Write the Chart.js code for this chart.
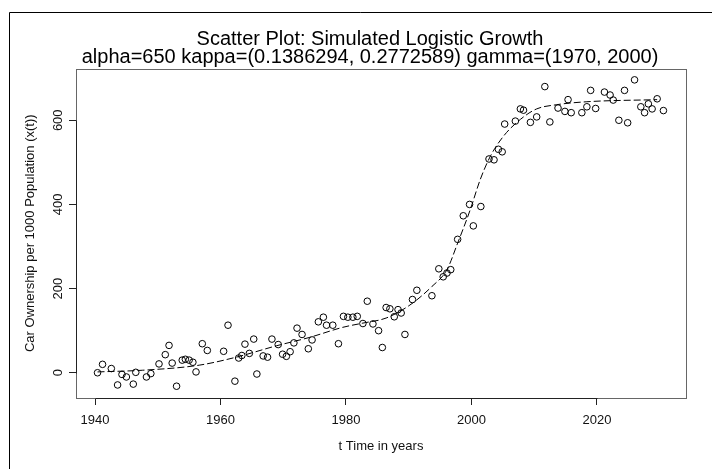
<!DOCTYPE html>
<html>
<head>
<meta charset="utf-8">
<script src="https://cdn.jsdelivr.net/npm/chart.js@4.4.1/dist/chart.umd.min.js"></script>
<style>
html,body{margin:0;padding:0;background:#fff;}
#wrap{width:712px;height:469px;}
</style>
</head>
<body>
<div id="wrap"><canvas id="c" width="712" height="469"></canvas></div>
<script>
// ---- data ----
const obsYears = [1940.4,1941.2,1942.6,1943.6,1944.3,1945.0,1946.1,1946.5,1948.2,1948.9,
  1950.2,1951.2,1951.8,1952.3,1953.0,1953.9,1954.4,1955.0,1955.6,1956.1,
  1957.1,1957.9,1960.5,1961.2,1962.3,1962.9,1963.4,1963.9,1964.6,1965.3,
  1965.8,1966.8,1967.5,1968.2,1969.2,1969.9,1970.5,1971.1,1971.7,1972.2,
  1973.0,1974.0,1974.6,1975.6,1976.4,1976.9,1977.9,1978.8,1979.6,1980.3,
  1981.1,1981.8,1982.7,1983.4,1984.3,1985.2,1985.8,1986.4,1987.0,1987.7,
  1988.3,1988.8,1989.4,1990.6,1991.3,1993.7,1994.8,1995.5,1996.1,1996.7,
  1997.8,1998.7,1999.7,2000.3,2001.5,2002.8,2003.6,2004.3,2004.9,2005.3,
  2007.0,2007.8,2008.3,2009.4,2010.4,2011.7,2012.5,2013.8,2014.9,2015.4,
  2015.9,2017.6,2018.4,2019.0,2019.8,2021.2,2022.1,2022.6,2023.5,2024.4,
  2024.9,2026.0,2027.0,2027.6,2028.2,2028.8,2029.6,2030.6];
const obsValues = [0,20,10,-29,-4,-10,-27,1,-10,-2,
  21,43,65,23,-32,30,32,30,25,2,
  69,53,51,113,-20,35,41,68,46,80,
  -3,40,37,80,67,44,39,50,71,106,
  91,57,78,121,132,113,113,69,134,132,
  132,134,117,170,116,100,60,155,152,133,
  150,142,91,174,196,183,247,228,237,245,
  317,373,400,349,395,508,506,531,525,591,
  598,627,624,595,608,680,596,629,621,649,
  618,618,632,671,628,667,660,648,600,671,
  594,696,632,618,639,627,651,623];
// dashed model curve
const curveYears  = [1940.4,1947.6,1956.6,1962.5,1968.9,1974.2,1979.5,1982.7,1986.4,1990.2,1993.7,1996.1,1997.8,1999.8,2001.4,2003.0,2005.1,2007.8,2010.4,2013.6,2018.4,2029.6];
const curveValues = [2,6,18,37,64,84,108,118,130,161,205,245,308,387,459,514,562,602,627,637,644,649];
// axis ticks
const xTicks = [1940,1960,1980,2000,2020];
const yTicks = [0,200,400,600];
const titleLines = ['Scatter Plot: Simulated Logistic Growth','alpha=650 kappa=(0.1386294, 0.2772589) gamma=(1970, 2000)'];
const xTitle = 't Time in years';
const yTitle = 'Car Ownership per 1000 Population (x(t))';

const FONT = '"Liberation Sans", Arial, Helvetica, sans-serif';

const obsPts = obsYears.map((t,i)=>({x:t,y:obsValues[i]}));
const curvePts = curveYears.map((t,i)=>({x:t,y:curveValues[i]}));

const decor = {
  id:'decor',
  beforeDraw(chart){
    const ctx = chart.ctx;
    ctx.save();
    ctx.fillStyle='#fff';
    ctx.fillRect(0,0,chart.width,chart.height);
    ctx.strokeStyle='#000';
    ctx.lineWidth=1;
    ctx.beginPath();
    ctx.moveTo(9.5,chart.height);
    ctx.lineTo(9.5,12.5);
    ctx.lineTo(chart.width,12.5);
    ctx.stroke();
    // main title (two lines)
    ctx.fillStyle='#000';
    ctx.font='20px '+FONT;
    ctx.textAlign='center';
    ctx.textBaseline='middle';
    ctx.fillText(titleLines[0],370,39);
    ctx.fillText(titleLines[1],370,57.5);
    ctx.restore();
  },
  afterDraw(chart){
    const {ctx, chartArea:a, scales:{x,y}} = chart;
    ctx.save();
    ctx.lineWidth=1;
    ctx.strokeStyle='#666';
    const L=Math.round(a.left)+0.5, T=Math.round(a.top)+0.5, R=Math.round(a.right)+0.5, B=Math.round(a.bottom)+0.5;
    ctx.strokeRect(L,T,R-L,B-T);
    ctx.strokeStyle='#222';
    ctx.beginPath();
    ctx.moveTo(Math.round(x.getPixelForValue(xTicks[0]))+0.5,B);
    ctx.lineTo(Math.round(x.getPixelForValue(xTicks[xTicks.length-1]))+0.5,B);
    ctx.moveTo(L,Math.round(y.getPixelForValue(yTicks[0]))+0.5);
    ctx.lineTo(L,Math.round(y.getPixelForValue(yTicks[yTicks.length-1]))+0.5);
    ctx.stroke();
    ctx.fillStyle='#111';
    ctx.font='13px '+FONT;
    ctx.textAlign='center';
    ctx.textBaseline='middle';
    yTicks.forEach(v=>{
      const py=y.getPixelForValue(v);
      ctx.save();
      ctx.translate(58.5,py);
      ctx.rotate(-Math.PI/2);
      ctx.fillText(String(v),0,0);
      ctx.restore();
    });
    ctx.restore();
  }
};

new Chart(document.getElementById('c'),{
  type:'scatter',
  data:{datasets:[
    {label:'observed',data:obsPts,pointStyle:'circle',pointRadius:3.3,pointBorderWidth:1,
     pointBorderColor:'#000',pointBackgroundColor:'rgba(0,0,0,0)',showLine:false,order:1},
    {label:'model',type:'line',data:curvePts,showLine:true,pointRadius:0,borderColor:'#000',
     borderWidth:1,borderDash:[7,3],cubicInterpolationMode:'monotone',fill:false,order:2}
  ]},
  options:{
    responsive:false,
    animation:false,
    events:[],
    layout:{padding:{left:0,right:26,top:68.5,bottom:0}},
    plugins:{
      legend:{display:false},
      tooltip:{enabled:false},
      title:{display:false}
    },
    scales:{
      x:{type:'linear',min:1936.97,max:2034.2,
        afterBuildTicks(s){s.ticks=xTicks.map(v=>({value:v}));},
        afterFit(s){s.height=71;},
        border:{display:false},
        grid:{drawOnChartArea:false,drawTicks:true,tickLength:7,color:'#222',lineWidth:1},
        ticks:{color:'#111',font:{family:FONT,size:13},padding:8,maxRotation:0,autoSkip:false,
          callback:v=>String(v)},
        title:{display:true,text:xTitle,color:'#111',font:{family:FONT,size:13},padding:{top:0,bottom:15}}
      },
      y:{type:'linear',min:-60,max:723,
        afterBuildTicks(s){s.ticks=yTicks.map(v=>({value:v}));},
        afterFit(s){s.width=76;},
        border:{display:false},
        grid:{drawOnChartArea:false,drawTicks:true,tickLength:7,color:'#222',lineWidth:1},
        ticks:{display:false},
        title:{display:true,text:yTitle,color:'#111',font:{family:FONT,size:13},padding:{top:23,bottom:0}}
      }
    }
  },
  plugins:[decor]
});
</script>
</body>
</html>
